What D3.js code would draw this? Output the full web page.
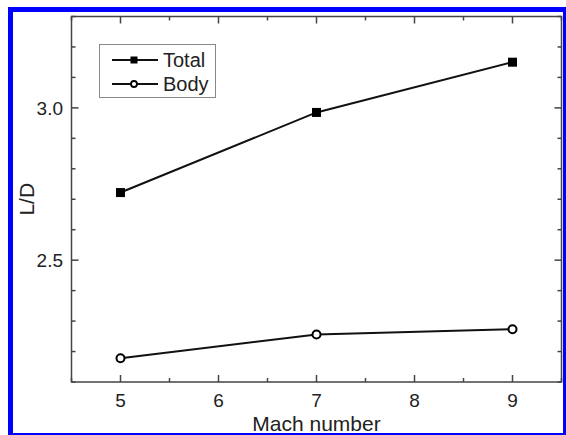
<!DOCTYPE html>
<html>
<head>
<meta charset="utf-8">
<script src="https://cdn.jsdelivr.net/npm/d3@7"></script>
<style>
  html, body { margin: 0; padding: 0; background: #fff; }
  svg { display: block; }
  text { font-family: "Liberation Sans", Arial, sans-serif; fill: #222; }
</style>
</head>
<body>
<svg id="chart" width="566" height="435"></svg>
<script>
// Lift-to-drag ratio versus Mach number
const machNumbers = [5, 7, 9];
const totalLD = [2.722, 2.985, 3.150];
const bodyLD = [2.178, 2.256, 2.273];
const seriesNames = ["Total", "Body"];
const xTicks = [5, 6, 7, 8, 9];
const yTicks = [2.5, 3.0];

const W = 566, H = 435;
const svg = d3.select("#chart");

// blue frame
svg.append("rect")
  .attr("x", 10.5).attr("y", 9.5)
  .attr("width", 555).attr("height", 426)
  .attr("fill", "none").attr("stroke", "#0000ff").attr("stroke-width", 5);

const plot = { left: 71.5, right: 561.5, top: 16.5, bottom: 382 };
const x = d3.scaleLinear().domain([4.5, 9.5]).range([plot.left, plot.right]);
const y = d3.scaleLinear().domain([2.1, 3.3]).range([plot.bottom, plot.top]);

const axisColor = "#444";
const g = svg.append("g");

// tick marks (inward) on all four sides
const xMinor = d3.range(4.5, 9.51, 0.5);
const yMinor = d3.range(2.1, 3.301, 0.1).map(v => +v.toFixed(2));
const isXMajor = v => Math.abs(v - Math.round(v)) < 1e-6;
const isYMajor = v => Math.abs(v * 2 - Math.round(v * 2)) < 1e-6;

function drawTicks() {
  xMinor.forEach(v => {
    const len = isXMajor(v) ? 7 : 4;
    g.append("line").attr("x1", x(v)).attr("x2", x(v))
      .attr("y1", plot.bottom).attr("y2", plot.bottom - len)
      .attr("stroke", axisColor).attr("stroke-width", 1.5);
    g.append("line").attr("x1", x(v)).attr("x2", x(v))
      .attr("y1", plot.top).attr("y2", plot.top + len)
      .attr("stroke", axisColor).attr("stroke-width", 1.5);
  });
  yMinor.forEach(v => {
    const len = isYMajor(v) ? 7 : 4;
    g.append("line").attr("x1", plot.left).attr("x2", plot.left + len)
      .attr("y1", y(v)).attr("y2", y(v))
      .attr("stroke", axisColor).attr("stroke-width", 1.5);
    g.append("line").attr("x1", plot.right).attr("x2", plot.right - len)
      .attr("y1", y(v)).attr("y2", y(v))
      .attr("stroke", axisColor).attr("stroke-width", 1.5);
  });
}
drawTicks();

// frame
g.append("rect")
  .attr("x", plot.left).attr("y", plot.top)
  .attr("width", plot.right - plot.left).attr("height", plot.bottom - plot.top)
  .attr("fill", "none").attr("stroke", axisColor).attr("stroke-width", 1.5);

// tick labels
xTicks.forEach(v => {
  g.append("text").attr("x", x(v)).attr("y", 407)
    .attr("text-anchor", "middle").attr("font-size", 19).text(v);
});
yTicks.forEach(v => {
  g.append("text").attr("x", 63).attr("y", y(v) + 7)
    .attr("text-anchor", "end").attr("font-size", 19).text(v.toFixed(1));
});

// axis titles
g.append("text").attr("x", x(7)).attr("y", 431)
  .attr("text-anchor", "middle").attr("font-size", 21).text("Mach number");
g.append("text")
  .attr("transform", `translate(34,${y(2.7)}) rotate(-90)`)
  .attr("text-anchor", "middle").attr("font-size", 21).text("L/D");

// series
const line = d3.line().x(d => x(d[0])).y(d => y(d[1]));
const totalPts = machNumbers.map((m, i) => [m, totalLD[i]]);
const bodyPts = machNumbers.map((m, i) => [m, bodyLD[i]]);

g.append("path").datum(totalPts).attr("d", line)
  .attr("fill", "none").attr("stroke", "#111").attr("stroke-width", 2);
g.append("path").datum(bodyPts).attr("d", line)
  .attr("fill", "none").attr("stroke", "#111").attr("stroke-width", 2);

g.selectAll(".sq").data(totalPts).enter().append("rect")
  .attr("x", d => x(d[0]) - 4.5).attr("y", d => y(d[1]) - 4.5)
  .attr("width", 9).attr("height", 9).attr("fill", "#000");
g.selectAll(".ci").data(bodyPts).enter().append("circle")
  .attr("cx", d => x(d[0])).attr("cy", d => y(d[1])).attr("r", 4)
  .attr("fill", "#fff").attr("stroke", "#000").attr("stroke-width", 2);

// legend
const lg = svg.append("g");
lg.append("rect").attr("x", 99.5).attr("y", 44.5).attr("width", 116).attr("height", 53)
  .attr("fill", "#fff").attr("stroke", "#888").attr("stroke-width", 1);
const rows = [60, 84];
rows.forEach((ry, i) => {
  lg.append("line").attr("x1", 112).attr("x2", 158).attr("y1", ry).attr("y2", ry)
    .attr("stroke", "#111").attr("stroke-width", 2);
  if (i === 0) {
    lg.append("rect").attr("x", 130.5).attr("y", ry - 3.5).attr("width", 7).attr("height", 7).attr("fill", "#000");
  } else {
    lg.append("circle").attr("cx", 134).attr("cy", ry).attr("r", 3)
      .attr("fill", "#fff").attr("stroke", "#000").attr("stroke-width", 1.8);
  }
  lg.append("text").attr("x", 163).attr("y", ry + 7).attr("font-size", 20).text(seriesNames[i]);
});
</script>
</body>
</html>
